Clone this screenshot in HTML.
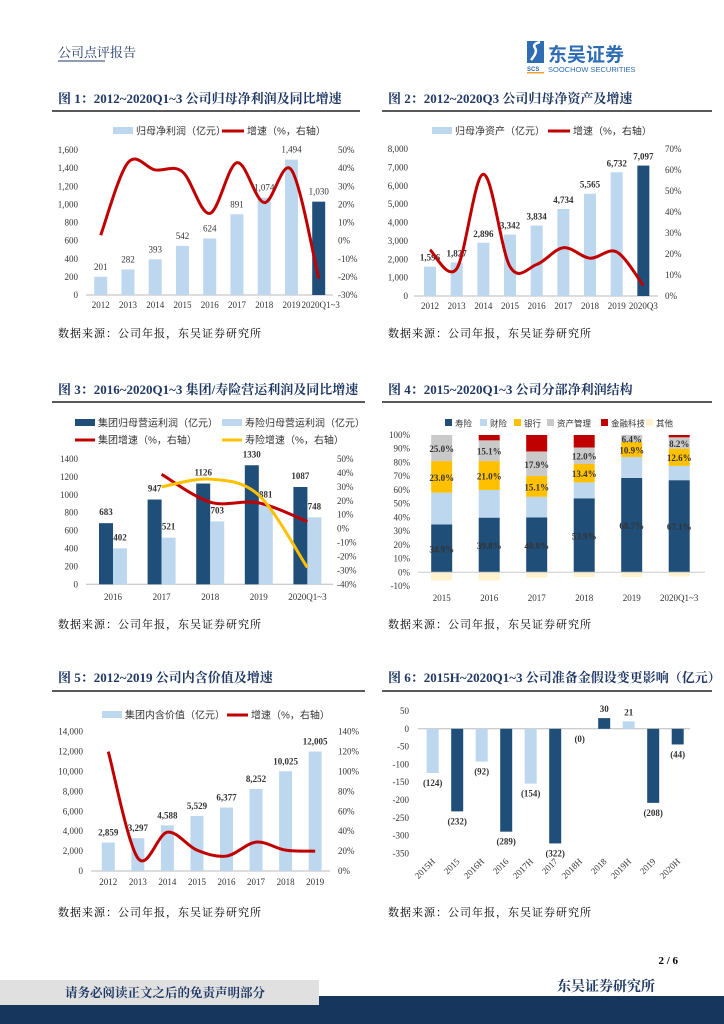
<!DOCTYPE html>
<html><head><meta charset="utf-8">
<style>
html,body{margin:0;padding:0;background:#fff;}
svg{display:block;}
text{font-family:"Liberation Serif","Noto Serif CJK SC",serif;}
.ttl{font-family:"Liberation Serif","Noto Serif CJK SC",serif;font-weight:bold;font-size:13px;fill:#1f3864;}
.src{font-family:"Liberation Serif","Noto Serif CJK SC",serif;font-size:11px;fill:#000;letter-spacing:1px;}
.tk{font-size:9px;fill:#333;}
.lg{font-family:"Liberation Sans","Noto Sans CJK SC",sans-serif;font-size:10px;fill:#333;}
.lg4{font-family:"Liberation Sans","Noto Sans CJK SC",sans-serif;font-size:8.5px;fill:#333;}
</style></head>
<body>
<svg id="page" width="724" height="1024" viewBox="0 0 724 1024" xmlns="http://www.w3.org/2000/svg">
<text x="58" y="57" style="font-size:13px;fill:#1f3864;font-family:'Liberation Serif','Noto Serif CJK SC',serif">公司点评报告</text>
<line x1="58" y1="61" x2="105" y2="61" stroke="#1f3864" stroke-width="1"/>
<g>
<rect x="527" y="41" width="17" height="22" fill="#2e6db4"/>
<path d="M531 60 Q538 52 535 48 Q532 44 540 42" stroke="#fff" stroke-width="2.5" fill="none"/>
<text x="527" y="71" style="font-size:6px;font-weight:bold;fill:#2e6db4;font-family:'Liberation Sans',sans-serif">SCS</text>
<rect x="527" y="72" width="17" height="1.5" fill="#f0a030"/>
<text x="548" y="61" style="font-size:19px;font-weight:bold;fill:#2e6db4;font-family:'Liberation Sans','Noto Sans CJK SC',sans-serif">东吴证券</text>
<text x="548" y="72" style="font-size:7.5px;fill:#2e6db4;font-family:'Liberation Sans',sans-serif">SOOCHOW SECURITIES</text>
</g>
<text class="ttl" x="58" y="103">图 1：2012~2020Q1~3 公司归母净利润及同比增速</text>
<line x1="52" y1="111" x2="360" y2="111" stroke="#222" stroke-width="1.5"/>
<text class="ttl" x="388" y="103">图 2：2012~2020Q3 公司归母净资产及增速</text>
<line x1="382" y1="111" x2="712" y2="111" stroke="#222" stroke-width="1.5"/>
<text class="ttl" x="58" y="394">图 3：2016~2020Q1~3 集团/寿险营运利润及同比增速</text>
<line x1="52" y1="402" x2="365" y2="402" stroke="#222" stroke-width="1.5"/>
<text class="ttl" x="388" y="394">图 4：2015~2020Q1~3 公司分部净利润结构</text>
<line x1="382" y1="402" x2="712" y2="402" stroke="#222" stroke-width="1.5"/>
<text class="ttl" x="58" y="682">图 5：2012~2019 公司内含价值及增速</text>
<line x1="52" y1="691" x2="365" y2="691" stroke="#222" stroke-width="1.5"/>
<text class="ttl" x="388" y="682">图 6：2015H~2020Q1~3 公司准备金假设变更影响（亿元）</text>
<line x1="382" y1="691" x2="712" y2="691" stroke="#222" stroke-width="1.5"/>
<text class="src" x="58" y="337">数据来源：公司年报，东吴证券研究所</text>
<text class="src" x="388" y="337">数据来源：公司年报，东吴证券研究所</text>
<text class="src" x="58" y="628">数据来源：公司年报，东吴证券研究所</text>
<text class="src" x="388" y="628">数据来源：公司年报，东吴证券研究所</text>
<text class="src" x="58" y="916">数据来源：公司年报，东吴证券研究所</text>
<text class="src" x="388" y="916">数据来源：公司年报，东吴证券研究所</text>
<text x="678" y="964" text-anchor="end" style="font-size:11px;font-weight:bold">2 / 6</text>
<text x="557" y="991" style="font-size:14px;font-weight:bold;fill:#1f3864;font-family:'Liberation Serif','Noto Serif CJK SC',serif">东吴证券研究所</text>
<rect x="318" y="996" width="406" height="28" fill="#17365d"/>
<rect x="0" y="1005" width="724" height="19" fill="#17365d"/>
<rect x="0" y="980" width="319" height="25" fill="#e0e0e0"/>
<text x="65" y="997" style="font-size:12.5px;font-weight:bold;fill:#1f3864;font-family:'Liberation Serif','Noto Serif CJK SC',serif">请务必阅读正文之后的免责声明部分</text>
</svg>
<script>
const c1Cats=['2012','2013','2014','2015','2016','2017','2018','2019','2020Q1~3'];
const c1Profit=[201,282,393,542,624,891,1074,1494,1030];
const c1Growth=[3,43,39,38,15,43,21,39,-21];
const c1LeftTicks=[0,200,400,600,800,1000,1200,1400,1600];
const c1RightTicks=[-30,-20,-10,0,10,20,30,40,50];

const c2Cats=['2012','2013','2014','2015','2016','2017','2018','2019','2020Q3'];
const c2Equity=[1596,1827,2896,3342,3834,4734,5565,6732,7097];
const c2Growth=[22,13,58,14,15,23,18,21,5];
const c2LeftTicks=[0,1000,2000,3000,4000,5000,6000,7000,8000];
const c2RightTicks=[0,10,20,30,40,50,60,70];

const c3Cats=['2016','2017','2018','2019','2020Q1~3'];
const c3Group=[683,947,1126,1330,1087];
const c3Life=[402,521,703,881,748];
const c3GroupGrowth=[null,39,19,18.5,5];
const c3LifeGrowth=[null,30,35.5,24,-28];
const c3LeftTicks=[0,200,400,600,800,1000,1200,1400];
const c3RightTicks=[-40,-30,-20,-10,0,10,20,30,40,50];

const c4Cats=['2015','2016','2017','2018','2019','2020Q1~3'];
const c4Life=[34.9,39.8,40.0,53.9,68.7,67.1];
const c4PC=[23.1,20.2,15.0,11.6,15.3,10.4];
const c4Bank=[23.0,21.0,15.1,13.4,10.9,12.6];
const c4Asset=[25.0,15.1,17.9,12.0,6.4,8.2];
const c4Fintech=[0,4.0,12.0,9.1,0,1.7];
const c4Other=[-6,-6,-4,-3.5,-3.5,-3];
const c4Ticks=[-10,0,10,20,30,40,50,60,70,80,90,100];

const c5Cats=['2012','2013','2014','2015','2016','2017','2018','2019'];
const c5EV=[2859,3297,4588,5529,6377,8252,10025,12005];
const c5Growth=[120,13,39,21,15,29,21,20];
const c5LeftTicks=[0,2000,4000,6000,8000,10000,12000,14000];
const c5RightTicks=[0,20,40,60,80,100,120,140];

const c6Cats=['2015H','2015','2016H','2016','2017H','2017','2018H','2018','2019H','2019','2020H'];
const c6Impact=[-124,-232,-92,-289,-154,-322,0,30,21,-208,-44];
const c6Ticks=[-350,-300,-250,-200,-150,-100,-50,0,50];

const NS='http://www.w3.org/2000/svg';
const svg=document.getElementById('page');
const LB='#bdd7ee', DB='#1f4e79', RED='#c00000', YEL='#ffc000', GR='#c9c9c9', OTH='#fff2cc';
function el(tag,attrs,parent){const e=document.createElementNS(NS,tag);for(const k in attrs)e.setAttribute(k,attrs[k]);(parent||svg).appendChild(e);return e;}
function tx(x,y,s,attrs,parent){const e=el('text',Object.assign({x:x,y:y},attrs||{}),parent);e.textContent=s;return e;}
function fmt(v){return v.toLocaleString('en-US');}
function smooth(pts){
  if(pts.length<2)return '';
  let d='M'+pts[0][0]+' '+pts[0][1];
  for(let i=0;i<pts.length-1;i++){
    const p0=pts[i-1]||pts[i],p1=pts[i],p2=pts[i+1],p3=pts[i+2]||p2;
    const c1x=p1[0]+(p2[0]-p0[0])/6,c1y=p1[1]+(p2[1]-p0[1])/6;
    const c2x=p2[0]-(p3[0]-p1[0])/6,c2y=p2[1]-(p3[1]-p1[1])/6;
    d+=' C'+c1x+' '+c1y+' '+c2x+' '+c2y+' '+p2[0]+' '+p2[1];
  }
  return d;
}
function group(name){const g=el('g',{});return g;}
function legendRect(g,x,y,w,h,color,label,name,cls){
  const r=el('rect',{x:x,y:y-4,width:w,height:h||8,fill:color},g);
  
  
  const t=tx(x+w+3,y+3.5,label,{class:cls||'lg'},g);
  
  
}
function legendLine(g,x,y,w,color,label,name){
  const l=el('line',{x1:x,y1:y,x2:x+w,y2:y,stroke:color,'stroke-width':3},g);
  
  
  const t=tx(x+w+3,y+3.5,label,{class:'lg'},g);
  
  
}

(function(){
  const g=group('chart-1-net-profit');
  const x=i=>100.7+i*27.25, yL=v=>295-v/1600*145, yR=v=>295-(v+30)/80*145;
  c1LeftTicks.forEach(t=>{const e=tx(78,yL(t)+3,fmt(t),{class:'tk','text-anchor':'end'},g);});
  c1RightTicks.forEach(t=>{const e=tx(338,yR(t)+3,t+'%',{class:'tk'},g);});
  el('line',{x1:86,y1:295,x2:333,y2:295,stroke:'#bbb'},g);
  c1Cats.forEach((c,i)=>{
    const b=el('rect',{x:x(i)-6.5,y:yL(c1Profit[i]),width:13,height:295-yL(c1Profit[i]),fill:i==8?DB:LB},g);
    
    
    const v=tx(x(i),yL(c1Profit[i])-7,fmt(c1Profit[i]),{class:'tk','text-anchor':'middle'},g);
    
    
    const xl=tx(x(i)+(i==8?2:0),308,c,{class:'tk','text-anchor':'middle','font-size':i==8?'8.5':'9'},g);
    
    
  });
  const p=el('path',{d:smooth(c1Growth.map((v,i)=>[x(i),yR(v)])),stroke:RED,'stroke-width':3,fill:'none'},g);
  
  
  legendRect(g,113,131,20,7,LB,'归母净利润（亿元）','legend-net-profit');
  legendLine(g,222,131,22,RED,'增速（%，右轴）','legend-growth');
})();

(function(){
  const g=group('chart-2-net-assets');
  const x=i=>430+i*26.67, yL=v=>296-v/8000*147, yR=v=>296-v/70*147;
  c2LeftTicks.forEach(t=>{const e=tx(408,yL(t)+3,fmt(t),{class:'tk','text-anchor':'end'},g);});
  c2RightTicks.forEach(t=>{const e=tx(665,yR(t)+3,t+'%',{class:'tk'},g);});
  el('line',{x1:414,y1:296,x2:658,y2:296,stroke:'#bbb'},g);
  c2Cats.forEach((c,i)=>{
    const b=el('rect',{x:x(i)-6,y:yL(c2Equity[i]),width:12,height:296-yL(c2Equity[i]),fill:i==8?DB:LB},g);
    
    
    const v=tx(x(i),yL(c2Equity[i])-6,fmt(c2Equity[i]),{class:'tk','text-anchor':'middle','font-weight':'bold',fill:'#222'},g);
    
    
    const xl=tx(x(i),309,c,{class:'tk','text-anchor':'middle'},g);
    
    
  });
  const p=el('path',{d:smooth(c2Growth.map((v,i)=>[x(i),yR(v)])),stroke:RED,'stroke-width':3,fill:'none'},g);
  
  
  legendRect(g,432,131,20,7,LB,'归母净资产（亿元）','legend-net-assets');
  legendLine(g,548,131,22,RED,'增速（%，右轴）','legend-growth');
})();

(function(){
  const g=group('chart-3-operating-profit');
  const x=i=>113+i*48.6, yL=v=>584.3-v/1400*125.3, yR=v=>584.3-(v+40)/90*125.3;
  c3LeftTicks.forEach(t=>{const e=tx(78,yL(t)+3,String(t),{class:'tk','text-anchor':'end'},g);});
  c3RightTicks.forEach(t=>{const e=tx(337,yR(t)+3,t+'%',{class:'tk'},g);});
  el('line',{x1:86,y1:584.3,x2:333,y2:584.3,stroke:'#bbb'},g);
  c3Cats.forEach((c,i)=>{
    const b1=el('rect',{x:x(i)-14,y:yL(c3Group[i]),width:14,height:584.3-yL(c3Group[i]),fill:DB},g);
    
    
    const b2=el('rect',{x:x(i),y:yL(c3Life[i]),width:14,height:584.3-yL(c3Life[i]),fill:LB},g);
    
    
    const v1=tx(x(i)-7,yL(c3Group[i])-8,String(c3Group[i]),{class:'tk','text-anchor':'middle','font-weight':'bold',fill:'#222','font-size':'10'},g);
    
    
    const v2=tx(x(i)+7,yL(c3Life[i])-8,String(c3Life[i]),{class:'tk','text-anchor':'middle','font-weight':'bold',fill:'#222','font-size':'10'},g);
    
    
    const xl=tx(x(i),600,c,{class:'tk','text-anchor':'middle'},g);
    
    
  });
  const gp=[],lp=[];
  c3Cats.forEach((c,i)=>{if(c3GroupGrowth[i]!==null)gp.push([x(i),yR(c3GroupGrowth[i])]);if(c3LifeGrowth[i]!==null)lp.push([x(i),yR(c3LifeGrowth[i])]);});
  const p1=el('path',{d:smooth(gp),stroke:RED,'stroke-width':3,fill:'none'},g);
  
  
  const p2=el('path',{d:smooth(lp),stroke:YEL,'stroke-width':3,fill:'none'},g);
  
  
  legendRect(g,75,423,20,7,DB,'集团归母营运利润（亿元）','legend-group-profit');
  legendRect(g,222,423,20,7,LB,'寿险归母营运利润（亿元）','legend-life-profit');
  legendLine(g,75,440,20,RED,'集团增速（%，右轴）','legend-group-growth');
  legendLine(g,222,440,20,YEL,'寿险增速（%，右轴）','legend-life-growth');
})();

(function(){
  const g=group('chart-4-segment-structure');
  const x=i=>441.7+i*47.5, y=v=>572.3-v*1.373;
  c4Ticks.forEach(t=>{const e=tx(410,y(t)+3,t+'%',{class:'tk','text-anchor':'end'},g);});
  const series=[[c4Life,DB,'life'],[c4PC,LB,'pc'],[c4Bank,YEL,'bank'],[c4Asset,GR,'asset-mgmt'],[c4Fintech,RED,'fintech']];
  c4Cats.forEach((c,i)=>{
    let base=0;
    series.forEach(s=>{
      const v=s[0][i];const top=Math.min(base+v,100);
      if(top>base){
        const r=el('rect',{x:x(i)-10.5,y:y(top),width:21,height:y(base)-y(top),fill:s[1]},g);
        
        
        const mid=(base+top)/2;
        if(s[2]==='life'){const t=tx(x(i),y(mid)+4,v.toFixed(1)+'%',{class:'tk','text-anchor':'middle','font-weight':'bold',fill:'#fff','font-size':'10'},g);}
        if(s[2]==='bank'||s[2]==='asset-mgmt'){const t=tx(x(i),y(mid)+4,v.toFixed(1)+'%',{class:'tk','text-anchor':'middle','font-weight':'bold',fill:'#111','font-size':'10'},g);}
      }
      base=top;
    });
    const o=el('rect',{x:x(i)-10.5,y:y(0),width:21,height:y(c4Other[i])-y(0),fill:OTH},g);
    
    
    const xl=tx(x(i),601,c,{class:'tk','text-anchor':'middle'},g);
    
    
  });
  el('line',{x1:418,y1:y(0),x2:705,y2:y(0),stroke:'#ccc'},g);
  legendRect(g,445,423,7,7,DB,'寿险','legend-life','lg4');
  legendRect(g,480,423,7,7,LB,'财险','legend-pc','lg4');
  legendRect(g,514,423,7,7,YEL,'银行','legend-bank','lg4');
  legendRect(g,547,423,7,7,GR,'资产管理','legend-asset-mgmt','lg4');
  legendRect(g,601,423,7,7,RED,'金融科技','legend-fintech','lg4');
  legendRect(g,646,423,7,7,OTH,'其他','legend-other','lg4');
})();

(function(){
  const g=group('chart-5-embedded-value');
  const x=i=>108.3+i*29.55, yL=v=>871-v/14000*139.3, yR=v=>871-v/140*139.3;
  c5LeftTicks.forEach(t=>{const e=tx(83,yL(t)+3,fmt(t),{class:'tk','text-anchor':'end'},g);});
  c5RightTicks.forEach(t=>{const e=tx(338,yR(t)+3,t+'%',{class:'tk'},g);});
  el('line',{x1:91,y1:871,x2:330,y2:871,stroke:'#bbb'},g);
  c5Cats.forEach((c,i)=>{
    const b=el('rect',{x:x(i)-6.5,y:yL(c5EV[i]),width:13,height:871-yL(c5EV[i]),fill:LB},g);
    
    
    const v=tx(x(i),yL(c5EV[i])-7,fmt(c5EV[i]),{class:'tk','text-anchor':'middle','font-weight':'bold',fill:'#222','font-size':'10'},g);
    
    
    const xl=tx(x(i),885,c,{class:'tk','text-anchor':'middle'},g);
    
    
  });
  const p=el('path',{d:smooth(c5Growth.map((v,i)=>[x(i),yR(v)])),stroke:RED,'stroke-width':3,fill:'none'},g);
  
  
  legendRect(g,102,715,20,7,LB,'集团内含价值（亿元）','legend-ev');
  legendLine(g,227,715,21,RED,'增速（%，右轴）','legend-growth');
})();

(function(){
  const g=group('chart-6-reserve-impact');
  const x=i=>432.7+i*24.5, y=v=>728.8-v*0.356;
  c6Ticks.forEach(t=>{const e=tx(409,y(t)+3,String(t),{class:'tk','text-anchor':'end'},g);});
  el('line',{x1:418,y1:y(0),x2:690,y2:y(0),stroke:'#bbb'},g);
  c6Cats.forEach((c,i)=>{
    const v=c6Impact[i];
    const dark=!/H$/.test(c)||c==='2020H';
    const b=el('rect',{x:x(i)-6,y:Math.min(y(v),y(0)),width:12,height:Math.abs(y(v)-y(0)),fill:dark?DB:LB},g);
    
    
    const lab=v<=0?'('+Math.abs(v)+')':String(v);
    const ly=v>0?y(v)-6:y(v)+13;
    const t=tx(x(i),ly,lab,{class:'tk','text-anchor':'middle','font-weight':'bold',fill:v>0?'#111':'#e00000','font-size':'10'},g);
    
    
    const xl=tx(x(i)+3,862,c,{class:'tk','text-anchor':'end',transform:'rotate(-45 '+(x(i)+3)+' 862)'},g);
    
    
  });
})();
</script>
</body></html>
